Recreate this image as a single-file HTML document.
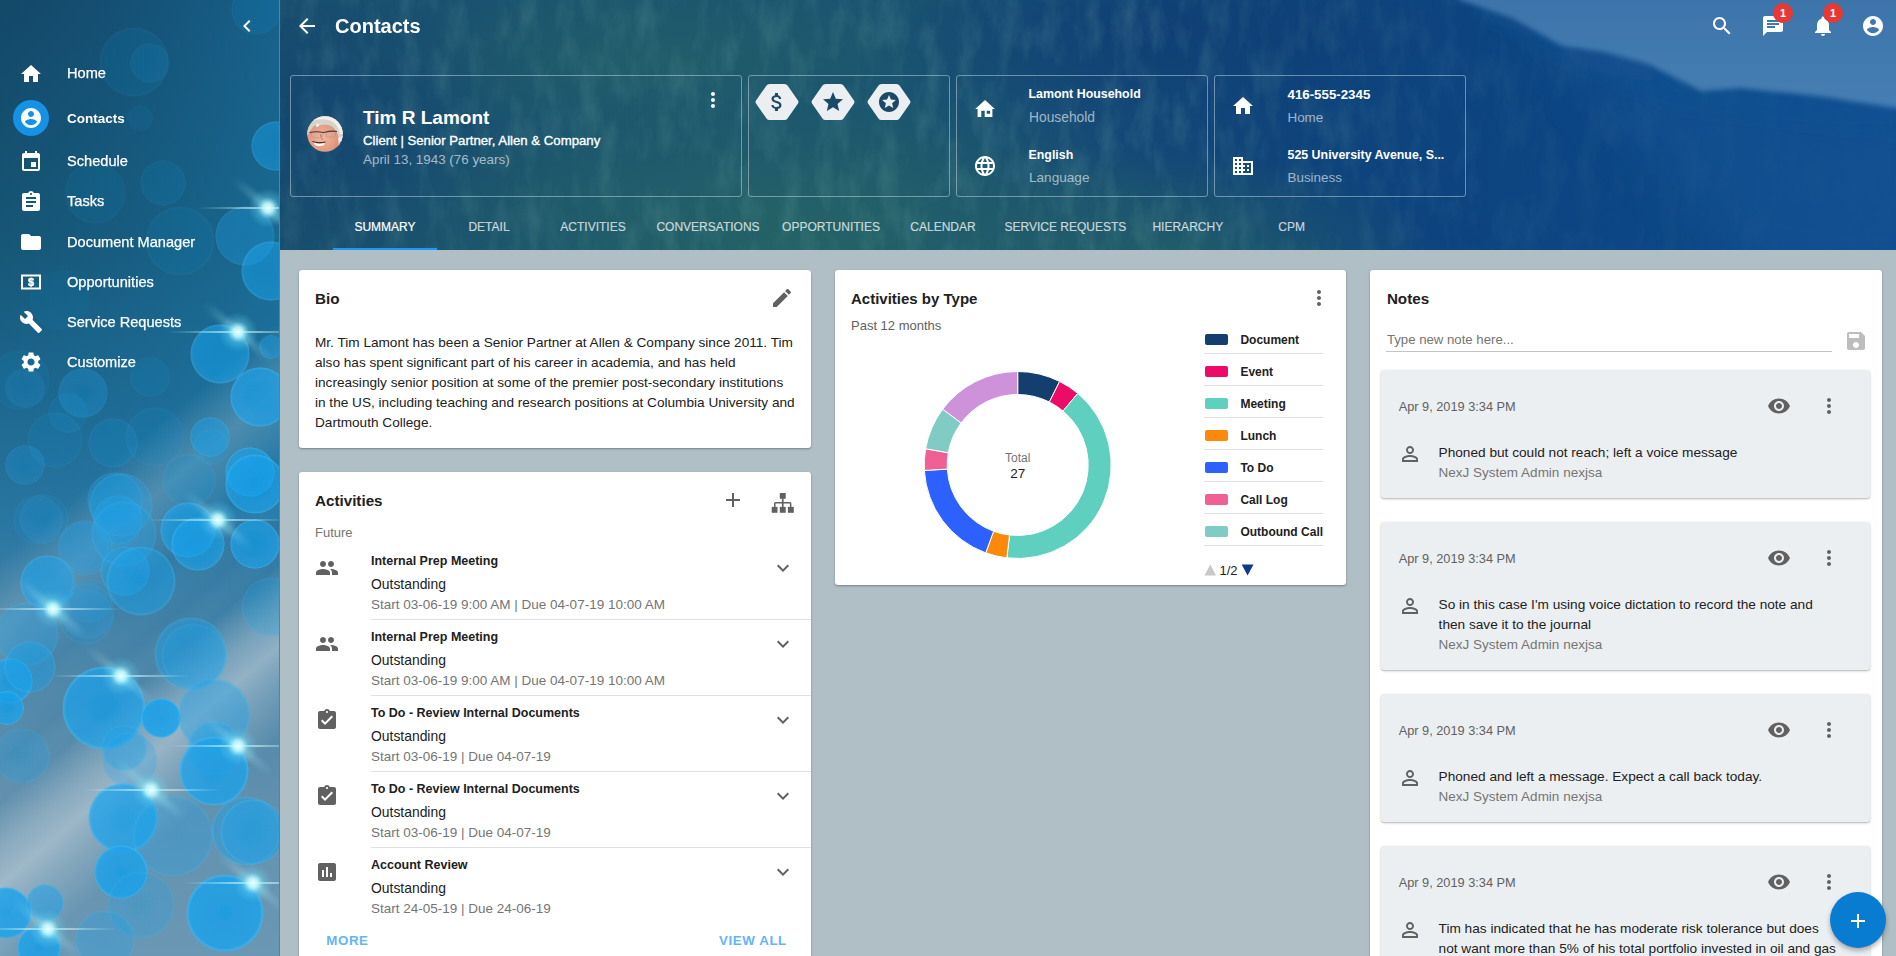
<!DOCTYPE html>
<html><head><meta charset="utf-8"><style>
*{box-sizing:border-box;margin:0;padding:0}
html,body{width:1896px;height:956px;overflow:hidden;font-family:"Liberation Sans",sans-serif;background:#b0bec5;position:relative}
.abs{position:absolute}
svg{display:block;overflow:visible}
.t{position:absolute;white-space:nowrap;line-height:1}
#side{position:absolute;left:0;top:0;width:279px;height:956px;overflow:hidden;background:#1d6d9c}
#sidebg{position:absolute;left:0;top:0;width:279px;height:956px;
 background:linear-gradient(180deg,#134a6b 0%,#175a7e 20%,#1f77a6 40%,#3a86b5 55%,#6f9fbd 70%,#8fb3c8 80%,#4d97c8 100%)}
#sideline{position:absolute;left:279px;top:0;width:1px;height:956px;background:rgba(5,50,90,0.45)}
#hdr{position:absolute;left:280px;top:0;width:1616px;height:250px;overflow:hidden}
#hdrbg{position:absolute;left:0;top:0;width:1616px;height:250px;
 background:linear-gradient(90deg,#1b5068 0%,#1d5a6a 30%,#1f5f6e 50%,#174e7e 70%,#0f4a88 85%,#1757a0 100%)}
.hcard{position:absolute;top:75px;height:122px;border:1px solid rgba(220,230,240,0.45);border-radius:3px}
.tab{width:200px;text-align:center;font-size:12px;-webkit-text-stroke:0.2px currentColor}
.badge{width:20px;height:20px;border-radius:50%;background:#e53935;color:#fff;font-size:11px;font-weight:bold;line-height:21px;text-align:center}
.avatar{width:36px;height:36px;border-radius:50%;background:radial-gradient(circle at 50% 55%,#e8c0a0 0%,#d9a888 35%,#c8c8c8 60%,#eeeeee 75%)}
.card{position:absolute;background:#fff;border-radius:3px;box-shadow:0 1px 3px rgba(0,0,0,0.2),0 1px 1px rgba(0,0,0,0.14)}
.note{position:absolute;left:1381px;width:489px;background:#eceff1;border-radius:3px;box-shadow:0 1px 3px rgba(0,0,0,0.2),0 1px 1px rgba(0,0,0,0.12)}

</style></head><body>
<div id="side">
<svg class="abs" style="left:0;top:0" width="279" height="956" viewBox="0 0 279 956"><defs><linearGradient id="sb" x1="0" y1="0" x2="0" y2="1"><stop offset="0" stop-color="#134869"/><stop offset="0.25" stop-color="#165676"/><stop offset="0.42" stop-color="#1d6890"/><stop offset="0.55" stop-color="#2a77a3"/><stop offset="0.68" stop-color="#4683a8"/><stop offset="0.85" stop-color="#6391ae"/><stop offset="1" stop-color="#6a98b4"/></linearGradient><linearGradient id="sv" gradientUnits="userSpaceOnUse" x1="0" y1="560" x2="240" y2="840"><stop offset="0" stop-color="#c8d2d8" stop-opacity="0"/><stop offset="0.14" stop-color="#b8c6ce" stop-opacity="0.3"/><stop offset="0.3" stop-color="#c8d2d8" stop-opacity="0"/><stop offset="0.42" stop-color="#3f7698" stop-opacity="0.12"/><stop offset="0.5" stop-color="#c8d2d8" stop-opacity="0"/><stop offset="0.6" stop-color="#c4d0d8" stop-opacity="0.4"/><stop offset="0.67" stop-color="#ccd6dc" stop-opacity="0.55"/><stop offset="0.74" stop-color="#c4d0d8" stop-opacity="0.35"/><stop offset="0.86" stop-color="#c8d2d8" stop-opacity="0"/><stop offset="1" stop-color="#c8d2d8" stop-opacity="0"/></linearGradient><linearGradient id="sr" x1="0" y1="0" x2="1" y2="0"><stop offset="0" stop-color="#1a6d9e" stop-opacity="0"/><stop offset="1" stop-color="#1f86bd" stop-opacity="0.4"/></linearGradient><radialGradient id="bc"><stop offset="0" stop-color="#139de8"/><stop offset="0.9" stop-color="#1ba3ec"/><stop offset="0.97" stop-color="#3ab4f0"/><stop offset="1" stop-color="#3ab4f0" stop-opacity="0"/></radialGradient><radialGradient id="fl"><stop offset="0" stop-color="#f0ffff" stop-opacity="1"/><stop offset="0.25" stop-color="#bdf8ff" stop-opacity="0.9"/><stop offset="0.55" stop-color="#70d8f0" stop-opacity="0.35"/><stop offset="1" stop-color="#60c8e8" stop-opacity="0"/></radialGradient><linearGradient id="fh" x1="0" y1="0" x2="1" y2="0"><stop offset="0" stop-color="#bff" stop-opacity="0"/><stop offset="0.5" stop-color="#eff" stop-opacity="0.9"/><stop offset="1" stop-color="#bff" stop-opacity="0"/></linearGradient><linearGradient id="fd" x1="0" y1="0" x2="1" y2="0"><stop offset="0" stop-color="#aef" stop-opacity="0"/><stop offset="0.5" stop-color="#cff" stop-opacity="0.35"/><stop offset="1" stop-color="#aef" stop-opacity="0"/></linearGradient><filter id="fbl" x="-20%" y="-50%" width="140%" height="200%"><feGaussianBlur stdDeviation="2"/></filter><filter id="sbl" x="-5%" y="-5%" width="110%" height="110%"><feGaussianBlur stdDeviation="0.7"/></filter></defs><rect width="279" height="956" fill="url(#sb)"/><rect y="0" width="279" height="520" fill="url(#sr)"/><rect y="0" width="279" height="956" fill="url(#sv)"/><g filter="url(#sbl)"><circle cx="134" cy="62" r="35" fill="url(#bc)" opacity="0.1"/><circle cx="150" cy="63" r="20" fill="url(#bc)" opacity="0.1"/><circle cx="256" cy="10" r="25" fill="url(#bc)" opacity="0.12"/><circle cx="140" cy="118" r="13" fill="url(#bc)" opacity="0.08"/><circle cx="163" cy="183" r="23" fill="url(#bc)" opacity="0.12"/><circle cx="180" cy="241" r="35" fill="url(#bc)" opacity="0.1"/><circle cx="95" cy="193" r="31" fill="url(#bc)" opacity="0.08"/><circle cx="150" cy="377" r="20" fill="url(#bc)" opacity="0.1"/><circle cx="155" cy="437" r="30" fill="url(#bc)" opacity="0.1"/><circle cx="60" cy="300" r="30" fill="url(#bc)" opacity="0.06"/><circle cx="20" cy="380" r="30" fill="url(#bc)" opacity="0.08"/><circle cx="276" cy="146" r="25" fill="url(#bc)" opacity="0.45"/><circle cx="245" cy="236" r="30" fill="url(#bc)" opacity="0.3"/><circle cx="271" cy="271" r="30" fill="url(#bc)" opacity="0.5"/><circle cx="220" cy="354" r="30" fill="url(#bc)" opacity="0.55"/><circle cx="260" cy="397" r="30" fill="url(#bc)" opacity="0.65"/><circle cx="271" cy="347" r="12" fill="url(#bc)" opacity="0.4"/><circle cx="210" cy="437" r="20" fill="url(#bc)" opacity="0.45"/><circle cx="250" cy="472" r="25" fill="url(#bc)" opacity="0.65"/><circle cx="25" cy="388" r="20" fill="url(#bc)" opacity="0.12"/><circle cx="83" cy="393" r="25" fill="url(#bc)" opacity="0.25"/><circle cx="68" cy="413" r="20" fill="url(#bc)" opacity="0.12"/><circle cx="113" cy="443" r="25" fill="url(#bc)" opacity="0.15"/><circle cx="25" cy="465" r="20" fill="url(#bc)" opacity="0.12"/><circle cx="55" cy="440" r="28" fill="url(#bc)" opacity="0.1"/><circle cx="115" cy="500" r="28" fill="url(#bc)" opacity="0.3"/><circle cx="118" cy="520" r="25" fill="url(#bc)" opacity="0.4"/><circle cx="38" cy="520" r="25" fill="url(#bc)" opacity="0.12"/><circle cx="85" cy="548" r="28" fill="url(#bc)" opacity="0.25"/><circle cx="125" cy="571" r="25" fill="url(#bc)" opacity="0.45"/><circle cx="48" cy="583" r="28" fill="url(#bc)" opacity="0.35"/><circle cx="90" cy="601" r="22" fill="url(#bc)" opacity="0.15"/><circle cx="121" cy="505" r="32" fill="url(#bc)" opacity="0.3"/><circle cx="124" cy="534" r="33" fill="url(#bc)" opacity="0.3"/><circle cx="84" cy="547" r="25" fill="url(#bc)" opacity="0.15"/><circle cx="141" cy="581" r="35" fill="url(#bc)" opacity="0.45"/><circle cx="47" cy="582" r="27" fill="url(#bc)" opacity="0.35"/><circle cx="189" cy="480" r="27" fill="url(#bc)" opacity="0.15"/><circle cx="188" cy="530" r="28" fill="url(#bc)" opacity="0.6"/><circle cx="198" cy="544" r="27" fill="url(#bc)" opacity="0.6"/><circle cx="255" cy="484" r="30" fill="url(#bc)" opacity="0.65"/><circle cx="255" cy="544" r="25" fill="url(#bc)" opacity="0.65"/><circle cx="25" cy="465" r="20" fill="url(#bc)" opacity="0.12"/><circle cx="44" cy="519" r="25" fill="url(#bc)" opacity="0.12"/><circle cx="211" cy="447" r="18" fill="url(#bc)" opacity="0.15"/><circle cx="87" cy="611" r="28" fill="url(#bc)" opacity="0.15"/><circle cx="27" cy="634" r="32" fill="url(#bc)" opacity="0.3"/><circle cx="10" cy="681" r="23" fill="url(#bc)" opacity="0.75"/><circle cx="191" cy="654" r="37" fill="url(#bc)" opacity="0.4"/><circle cx="104" cy="708" r="42" fill="url(#bc)" opacity="0.7"/><circle cx="161" cy="718" r="20" fill="url(#bc)" opacity="0.85"/><circle cx="214" cy="715" r="37" fill="url(#bc)" opacity="0.4"/><circle cx="7" cy="708" r="17" fill="url(#bc)" opacity="0.75"/><circle cx="271" cy="607" r="30" fill="url(#bc)" opacity="0.2"/><circle cx="124" cy="748" r="23" fill="url(#bc)" opacity="0.3"/><circle cx="214" cy="748" r="27" fill="url(#bc)" opacity="0.35"/><circle cx="130" cy="760" r="28" fill="url(#bc)" opacity="0.25"/><circle cx="22" cy="756" r="28" fill="url(#bc)" opacity="0.25"/><circle cx="214" cy="771" r="35" fill="url(#bc)" opacity="0.75"/><circle cx="123" cy="818" r="35" fill="url(#bc)" opacity="0.75"/><circle cx="173" cy="836" r="41" fill="url(#bc)" opacity="0.3"/><circle cx="246" cy="831" r="35" fill="url(#bc)" opacity="0.4"/><circle cx="121" cy="872" r="27" fill="url(#bc)" opacity="0.8"/><circle cx="225" cy="913" r="39" fill="url(#bc)" opacity="0.8"/><circle cx="6" cy="913" r="26" fill="url(#bc)" opacity="0.8"/><circle cx="45" cy="903" r="19" fill="url(#bc)" opacity="0.5"/><circle cx="39" cy="948" r="22" fill="url(#bc)" opacity="0.8"/><circle cx="141" cy="905" r="34" fill="url(#bc)" opacity="0.25"/><circle cx="86" cy="617" r="28" fill="url(#bc)" opacity="0.15"/><circle cx="194" cy="656" r="33" fill="url(#bc)" opacity="0.2"/><circle cx="30" cy="667" r="26" fill="url(#bc)" opacity="0.4"/><circle cx="253" cy="832" r="33" fill="url(#bc)" opacity="0.45"/><circle cx="105" cy="940" r="30" fill="url(#bc)" opacity="0.3"/></g><rect x="198" y="207.2" width="140" height="1.6" fill="url(#fh)"/><rect x="223" y="204" width="90" height="8" fill="url(#fd)" transform="rotate(40 268 208)" filter="url(#fbl)"/><circle cx="268" cy="208" r="20" fill="url(#fl)"/><rect x="168" y="331.2" width="140" height="1.6" fill="url(#fh)"/><rect x="193" y="328" width="90" height="8" fill="url(#fd)" transform="rotate(40 238 332)" filter="url(#fbl)"/><circle cx="238" cy="332" r="20" fill="url(#fl)"/><rect x="148" y="519.2" width="140" height="1.6" fill="url(#fh)"/><rect x="173" y="516" width="90" height="8" fill="url(#fd)" transform="rotate(40 218 520)" filter="url(#fbl)"/><circle cx="218" cy="520" r="20" fill="url(#fl)"/><rect x="-17" y="608.2" width="140" height="1.6" fill="url(#fh)"/><rect x="8" y="605" width="90" height="8" fill="url(#fd)" transform="rotate(40 53 609)" filter="url(#fbl)"/><circle cx="53" cy="609" r="20" fill="url(#fl)"/><rect x="51" y="675.2" width="140" height="1.6" fill="url(#fh)"/><rect x="76" y="672" width="90" height="8" fill="url(#fd)" transform="rotate(40 121 676)" filter="url(#fbl)"/><circle cx="121" cy="676" r="20" fill="url(#fl)"/><rect x="168" y="745.2" width="140" height="1.6" fill="url(#fh)"/><rect x="193" y="742" width="90" height="8" fill="url(#fd)" transform="rotate(40 238 746)" filter="url(#fbl)"/><circle cx="238" cy="746" r="20" fill="url(#fl)"/><rect x="81" y="789.2" width="140" height="1.6" fill="url(#fh)"/><rect x="106" y="786" width="90" height="8" fill="url(#fd)" transform="rotate(40 151 790)" filter="url(#fbl)"/><circle cx="151" cy="790" r="20" fill="url(#fl)"/><rect x="183" y="882.2" width="140" height="1.6" fill="url(#fh)"/><rect x="208" y="879" width="90" height="8" fill="url(#fd)" transform="rotate(40 253 883)" filter="url(#fbl)"/><circle cx="253" cy="883" r="20" fill="url(#fl)"/><rect x="-22" y="928.2" width="140" height="1.6" fill="url(#fh)"/><rect x="3" y="925" width="90" height="8" fill="url(#fd)" transform="rotate(40 48 929)" filter="url(#fbl)"/><circle cx="48" cy="929" r="20" fill="url(#fl)"/></svg>
<svg class="abs" style="left:235px;top:14px" width="24" height="24" viewBox="0 0 24 24"><path fill="#fff" d="M15.41 7.41L14 6l-6 6 6 6 1.41-1.41L10.83 12z"/></svg>
<svg class="abs" style="left:19px;top:61.5px" width="24" height="24" viewBox="0 0 24 24"><path fill="#fff" d="M10 20v-6h4v6h5v-8h3L12 3 2 12h3v8z"/></svg>
<div class="t " style="left:67px;top:66.24px;font-size:14.6px;color:#fff;font-weight:normal;-webkit-text-stroke:0.25px #fff">Home</div>
<div class="abs" style="left:13px;top:100px;width:36px;height:36px;border-radius:50%;background:#1592e6"></div>
<svg class="abs" style="left:19px;top:106px" width="24" height="24" viewBox="0 0 24 24"><path fill="#fff" d="M12 2C6.48 2 2 6.48 2 12s4.48 10 10 10 10-4.48 10-10S17.52 2 12 2zm0 3c1.66 0 3 1.34 3 3s-1.34 3-3 3-3-1.34-3-3 1.34-3 3-3zm0 14.2c-2.5 0-4.71-1.28-6-3.22.03-1.99 4-3.08 6-3.08 1.99 0 5.97 1.09 6 3.08-1.29 1.94-3.5 3.22-6 3.22z"/></svg>
<div class="t " style="left:67px;top:111.67px;font-size:13.5px;color:#fff;font-weight:bold;">Contacts</div>
<svg class="abs" style="left:19px;top:149.5px" width="24" height="24" viewBox="0 0 24 24"><path fill="#fff" d="M17 12h-5v5h5v-5zM16 1v2H8V1H6v2H5c-1.11 0-1.99.9-1.99 2L3 19c0 1.1.89 2 2 2h14c1.1 0 2-.9 2-2V5c0-1.1-.9-2-2-2h-1V1h-2zm3 18H5V8h14v11z"/></svg>
<div class="t " style="left:67px;top:154.24px;font-size:14.6px;color:#fff;font-weight:normal;-webkit-text-stroke:0.25px #fff">Schedule</div>
<svg class="abs" style="left:19px;top:189.5px" width="24" height="24" viewBox="0 0 24 24"><path fill="#fff" d="M19 3h-4.18C14.4 1.84 13.3 1 12 1c-1.3 0-2.4.84-2.82 2H5c-1.1 0-2 .9-2 2v14c0 1.1.9 2 2 2h14c1.1 0 2-.9 2-2V5c0-1.1-.9-2-2-2zm-7 0c.55 0 1 .45 1 1s-.45 1-1 1-1-.45-1-1 .45-1 1-1zm2 14H7v-2h7v2zm3-4H7v-2h10v2zm0-4H7V7h10v2z"/></svg>
<div class="t " style="left:67px;top:194.24px;font-size:14.6px;color:#fff;font-weight:normal;-webkit-text-stroke:0.25px #fff">Tasks</div>
<svg class="abs" style="left:19px;top:230px" width="24" height="24" viewBox="0 0 24 24"><path fill="#fff" d="M10 4H4c-1.1 0-1.99.9-1.99 2L2 18c0 1.1.9 2 2 2h16c1.1 0 2-.9 2-2V8c0-1.1-.9-2-2-2h-8l-2-2z"/></svg>
<div class="t " style="left:67px;top:234.74px;font-size:14.6px;color:#fff;font-weight:normal;-webkit-text-stroke:0.25px #fff">Document Manager</div>
<svg class="abs" style="left:19px;top:270px" width="24" height="24" viewBox="0 0 24 24"><rect x="3" y="5.5" width="18" height="13" fill="none" stroke="#fff" stroke-width="2"/><text x="12" y="16.2" text-anchor="middle" font-family="Liberation Sans" font-weight="bold" font-size="11" fill="#fff" stroke="#fff" stroke-width="0.4">$</text></svg>
<div class="t " style="left:67px;top:274.74px;font-size:14.6px;color:#fff;font-weight:normal;-webkit-text-stroke:0.25px #fff">Opportunities</div>
<svg class="abs" style="left:19px;top:310px" width="24" height="24" viewBox="0 0 24 24"><path fill="#fff" d="M22.7 19l-9.1-9.1c.9-2.3.4-5-1.5-6.9-2-2-5-2.4-7.4-1.3L9 6 6 9 1.6 4.7C.4 7.1.9 10.1 2.9 12.1c1.9 1.9 4.6 2.4 6.9 1.5l9.1 9.1c.4.4 1 .4 1.4 0l2.3-2.3c.5-.4.5-1.1.1-1.4z"/></svg>
<div class="t " style="left:67px;top:314.74px;font-size:14.6px;color:#fff;font-weight:normal;-webkit-text-stroke:0.25px #fff">Service Requests</div>
<svg class="abs" style="left:19px;top:350px" width="24" height="24" viewBox="0 0 24 24"><path fill="#fff" d="M19.14 12.94c.04-.3.06-.61.06-.94 0-.32-.02-.64-.07-.94l2.03-1.58c.18-.14.23-.41.12-.61l-1.92-3.32c-.12-.22-.37-.29-.59-.22l-2.39.96c-.5-.38-1.03-.7-1.62-.94l-.36-2.54c-.04-.24-.24-.41-.48-.41h-3.84c-.24 0-.43.17-.47.41l-.36 2.54c-.59.24-1.13.57-1.62.94l-2.39-.96c-.22-.08-.47 0-.59.22L2.74 8.87c-.12.21-.08.47.12.61l2.03 1.58c-.05.3-.09.63-.09.94s.02.64.07.94l-2.03 1.58c-.18.14-.23.41-.12.61l1.92 3.320c.12.22.37.29.59.22l2.39-.96c.5.38 1.03.7 1.62.94l.36 2.54c.05.24.24.41.48.41h3.84c.24 0 .44-.17.47-.41l.36-2.54c.59-.24 1.13-.56 1.62-.94l2.39.96c.22.08.47 0 .59-.22l1.92-3.32c.12-.22.07-.47-.12-.61l-2.01-1.58zM12 15.6c-1.98 0-3.6-1.62-3.6-3.6s1.62-3.6 3.6-3.6 3.6 1.62 3.6 3.6-1.62 3.6-3.6 3.6z"/></svg>
<div class="t " style="left:67px;top:354.74px;font-size:14.6px;color:#fff;font-weight:normal;-webkit-text-stroke:0.25px #fff">Customize</div>
</div>
<div id="sideline"></div>
<div id="hdr"><svg class="abs" style="left:0;top:0" width="1616" height="250" viewBox="0 0 1616 250"><defs><linearGradient id="hb" x1="0" y1="0" x2="1" y2="0"><stop offset="0" stop-color="#184d6e"/><stop offset="0.2" stop-color="#1b556f"/><stop offset="0.38" stop-color="#1a5470"/><stop offset="0.5" stop-color="#154a76"/><stop offset="0.62" stop-color="#0f437a"/><stop offset="0.8" stop-color="#0c4583"/><stop offset="1" stop-color="#0e4b8c"/></linearGradient><filter id="tex" x="0" y="0" width="100%" height="100%"><feTurbulence type="fractalNoise" baseFrequency="0.05 0.02" numOctaves="4" seed="11"/><feColorMatrix values="0 0 0 0 0.2  0 0 0 0 0.46  0 0 0 0 0.42  0 0 0 1.2 -0.5"/></filter><linearGradient id="texmask" x1="0" y1="0" x2="1" y2="0"><stop offset="0" stop-color="#fff" stop-opacity="0.3"/><stop offset="0.55" stop-color="#fff" stop-opacity="0.35"/><stop offset="0.75" stop-color="#fff" stop-opacity="0.15"/><stop offset="1" stop-color="#fff" stop-opacity="0.06"/></linearGradient><mask id="tm"><rect width="1616" height="250" fill="url(#texmask)"/></mask><radialGradient id="g1"><stop offset="0" stop-color="#2c6c60" stop-opacity="0.6"/><stop offset="1" stop-color="#2c6c60" stop-opacity="0"/></radialGradient><radialGradient id="g2"><stop offset="0" stop-color="#0e3c74" stop-opacity="0.7"/><stop offset="1" stop-color="#0e3c74" stop-opacity="0"/></radialGradient><linearGradient id="sky" x1="0" y1="0" x2="0" y2="1"><stop offset="0" stop-color="#3b73a9"/><stop offset="1" stop-color="#467fb3"/></linearGradient><linearGradient id="haze" x1="0" y1="0" x2="0" y2="1"><stop offset="0" stop-color="#2a64a0" stop-opacity="0.5"/><stop offset="1" stop-color="#0d4a8c" stop-opacity="0"/></linearGradient><linearGradient id="hz2" x1="0" y1="0" x2="1" y2="0"><stop offset="0" stop-color="#1d5a9a" stop-opacity="0"/><stop offset="1" stop-color="#1d5a9a" stop-opacity="0.5"/></linearGradient><filter id="bl" x="-10%" y="-10%" width="120%" height="120%"><feGaussianBlur stdDeviation="8"/></filter><filter id="bl2" x="-10%" y="-10%" width="120%" height="120%"><feGaussianBlur stdDeviation="2.5"/></filter></defs><rect width="1616" height="250" fill="url(#hb)"/><ellipse cx="520" cy="230" rx="420" ry="140" fill="url(#g1)"/><ellipse cx="900" cy="260" rx="260" ry="110" fill="url(#g1)"/><ellipse cx="380" cy="60" rx="260" ry="80" fill="url(#g1)" opacity="0.6"/><ellipse cx="880" cy="30" rx="300" ry="90" fill="url(#g2)"/><ellipse cx="60" cy="120" rx="160" ry="130" fill="url(#g2)" opacity="0.6"/><g mask="url(#tm)"><rect width="1616" height="250" filter="url(#tex)"/></g><filter id="bl3" x="-30%" y="-30%" width="160%" height="160%"><feGaussianBlur stdDeviation="25"/></filter><path d="M1200 -30 L1660 -30 L1660 280 L1480 280 Z" fill="#1b5ba0" opacity="0.3" filter="url(#bl3)"/><path d="M1170 -20 L1180 0 L1232 18 L1282 46 L1324 52 L1368 64 L1421 91 L1460 88 L1538 96 L1616 108 L1640 112 L1640 150 L1500 125 L1400 110 L1300 65 L1230 28 L1150 -20 Z" fill="url(#haze)" filter="url(#bl)"/><path d="M1170 -20 L1180 0 L1232 18 L1282 46 L1324 52 L1368 64 L1421 91 L1460 88 L1538 96 L1616 108 L1640 112 L1640 -20 Z" fill="url(#sky)" filter="url(#bl2)"/></svg>
</div>
<svg class="abs" style="left:295px;top:14px" width="24" height="24" viewBox="0 0 24 24"><path fill="#fff" d="M20 11H7.83l5.59-5.59L12 4l-8 8 8 8 1.41-1.41L7.83 13H20v-2z"/></svg>
<div class="t " style="left:335px;top:16.07px;font-size:20px;color:#fff;font-weight:bold;">Contacts</div>
<svg class="abs" style="left:1710px;top:14px" width="24" height="24" viewBox="0 0 24 24"><path fill="#fff" d="M15.5 14h-.79l-.28-.27C15.41 12.59 16 11.11 16 9.5 16 5.91 13.09 3 9.5 3S3 5.910 3 9.5 5.91 16 9.5 16c1.61 0 3.09-.59 4.23-1.57l.27.28v.79l5 4.99L20.49 19l-4.99-5zm-6 0C7.01 14 5 11.99 5 9.5S7.01 5 9.5 5 14 7.01 14 9.5 11.99 14 9.5 14z"/></svg>
<svg class="abs" style="left:1761px;top:14px" width="24" height="24" viewBox="0 0 24 24"><path fill="#fff" d="M20 2H4c-1.1 0-1.99.9-1.99 2L2 22l4-4h14c1.1 0 2-.9 2-2V4c0-1.1-.9-2-2-2zM6 9h12v2H6V9zm8 5H6v-2h8v2zm4-6H6V6h12v2z"/></svg>
<svg class="abs" style="left:1811px;top:14px" width="24" height="24" viewBox="0 0 24 24"><path fill="#fff" d="M12 22c1.1 0 2-.9 2-2h-4c0 1.1.89 2 2 2zm6-6v-5c0-3.07-1.64-5.64-4.5-6.32V4c0-.83-.67-1.5-1.5-1.5s-1.5.67-1.5 1.5v.68C7.630 5.36 6 7.92 6 11v5l-2 2v1h16v-1l-2-2z"/></svg>
<svg class="abs" style="left:1861px;top:14px" width="24" height="24" viewBox="0 0 24 24"><path fill="#fff" d="M12 2C6.48 2 2 6.48 2 12s4.48 10 10 10 10-4.48 10-10S17.52 2 12 2zm0 3c1.66 0 3 1.34 3 3s-1.34 3-3 3-3-1.34-3-3 1.34-3 3-3zm0 14.2c-2.5 0-4.71-1.28-6-3.22.03-1.99 4-3.08 6-3.08 1.99 0 5.97 1.09 6 3.08-1.29 1.94-3.5 3.22-6 3.22z"/></svg>
<div class="abs badge" style="left:1773px;top:3px">1</div>
<div class="abs badge" style="left:1823px;top:3px">1</div>
<div class="hcard" style="left:290px;width:452px"></div>
<div class="hcard" style="left:748px;width:202px"></div>
<div class="hcard" style="left:956px;width:252px"></div>
<div class="hcard" style="left:1214px;width:252px"></div>
<svg class="abs" style="left:307px;top:116px" width="36" height="36" viewBox="0 0 36 36"><defs><clipPath id="avc"><circle cx="18" cy="18" r="17.8"/></clipPath><radialGradient id="skin" cx="0.42" cy="0.6" r="0.6"><stop offset="0" stop-color="#eeb8a0"/><stop offset="0.6" stop-color="#e49c84"/><stop offset="1" stop-color="#cf866e"/></radialGradient></defs><g clip-path="url(#avc)"><rect width="36" height="36" fill="url(#skin)"/><path d="M0 0 H36 V36 H34 C33 30 32 24 31 19 C29 14 26 10 21 9 C16 8 12 10 9 9 C6 10 4 13 2 17 L0 20 Z" fill="#d8d2cc"/><path d="M6 5 C11 3 20 2 26 6 C30 9 32 13 33 18 L36 18 V0 H0 V10 C2 8 4 6 6 5Z" fill="#f2eeea"/><path d="M9 9 C11 7 13 7 12 10 C10 11 9 12 9 9Z" fill="#f4f0ec"/><path d="M31 22 C32 27 32 31 30 35 L36 35 V20Z" fill="#f0eeec"/><path d="M33 26 L35.5 25 L35 33 L31.5 34Z" fill="#2a2020"/><path d="M2.5 16.5 C7 15.5 12 15.5 16.5 16.5 C21 15.5 26 14.5 30 15.5" stroke="#4a3a34" stroke-width="1.1" fill="none"/><path d="M4 17 L5 21 C8 22 12 22 15 21 L16 17" stroke="#b89080" stroke-width="0.6" fill="none"/><path d="M19 17 L19.5 20.5 C22 21.5 26 21 28 20 L29 16" stroke="#b89080" stroke-width="0.6" fill="none"/><path d="M6.5 26 C10 28.5 15 28.5 18 26.5 L17 29 C14 30.5 10 30.5 7.5 28.5Z" fill="#fffaf4"/><path d="M5.5 25.5 C10 27 14 27 18.5 26" stroke="#3a2020" stroke-width="1" fill="none"/><path d="M13.5 18 C14 21 14.5 23 16 24" stroke="#c07a66" stroke-width="1" fill="none"/></g></svg>
<div class="t " style="left:363px;top:107.92px;font-size:19px;color:#fff;font-weight:bold;">Tim R Lamont</div>
<div class="t " style="left:363px;top:133.63px;font-size:13.2px;color:#fff;font-weight:normal;-webkit-text-stroke:0.35px #fff">Client | Senior Partner, Allen &amp; Company</div>
<div class="t " style="left:363px;top:153.16px;font-size:13.4px;color:rgba(255,255,255,0.62);font-weight:normal;">April 13, 1943 (76 years)</div>
<svg class="abs" style="left:701px;top:88px" width="24" height="24" viewBox="0 0 24 24"><path fill="#fff" d="M12 8c1.1 0 2-.9 2-2s-.9-2-2-2-2 .9-2 2 .9 2 2 2zm0 2c-1.1 0-2 .9-2 2s.9 2 2 2 2-.9 2-2-.9-2-2-2zm0 6c-1.1 0-2 .9-2 2s.9 2 2 2 2-.9 2-2-.9-2-2-2z"/></svg>
<svg class="abs" style="left:755px;top:84px" width="44" height="36" viewBox="0 0 44 36"><path fill="#eceff1" d="M11.5 1.5 Q12.5 0 14.5 0 H29.5 Q31.5 0 32.5 1.5 L43 16.5 Q44 18 43 19.5 L32.5 34.5 Q31.5 36 29.5 36 H14.5 Q12.5 36 11.5 34.5 L1 19.5 Q0 18 1 16.5 Z"/></svg>
<svg class="abs" style="left:765px;top:90px" width="24" height="24" viewBox="0 0 24 24"><path fill="#1b4a68" d="M11.8 10.9c-2.27-.59-3-1.2-3-2.15 0-1.09 1.01-1.85 2.7-1.85 1.78 0 2.44.85 2.5 2.1h2.21c-.07-1.72-1.12-3.3-3.21-3.81V3h-3v2.16c-1.94.42-3.5 1.68-3.5 3.61 0 2.31 1.91 3.46 4.7 4.13 2.5.6 3 1.48 3 2.41 0 .69-.49 1.79-2.7 1.79-2.06 0-2.87-.92-2.98-2.1h-2.2c.12 2.19 1.76 3.42 3.7 3.83V21h3v-2.15c1.95-.37 3.5-1.5 3.5-3.55 0-2.84-2.43-3.81-4.7-4.4z"/></svg>
<svg class="abs" style="left:811px;top:84px" width="44" height="36" viewBox="0 0 44 36"><path fill="#eceff1" d="M11.5 1.5 Q12.5 0 14.5 0 H29.5 Q31.5 0 32.5 1.5 L43 16.5 Q44 18 43 19.5 L32.5 34.5 Q31.5 36 29.5 36 H14.5 Q12.5 36 11.5 34.5 L1 19.5 Q0 18 1 16.5 Z"/></svg>
<svg class="abs" style="left:821px;top:90px" width="24" height="24" viewBox="0 0 24 24"><path fill="#1b4a68" d="M12 17.27L18.18 21l-1.64-7.03L22 9.24l-7.19-.61L12 2 9.19 8.63 2 9.24l5.46 4.73L5.82 21z"/></svg>
<svg class="abs" style="left:867px;top:84px" width="44" height="36" viewBox="0 0 44 36"><path fill="#eceff1" d="M11.5 1.5 Q12.5 0 14.5 0 H29.5 Q31.5 0 32.5 1.5 L43 16.5 Q44 18 43 19.5 L32.5 34.5 Q31.5 36 29.5 36 H14.5 Q12.5 36 11.5 34.5 L1 19.5 Q0 18 1 16.5 Z"/></svg>
<svg class="abs" style="left:877px;top:90px" width="24" height="24" viewBox="0 0 24 24"><path fill="#1b4a68" d="M11.99 2C6.47 2 2 6.48 2 12s4.47 10 9.99 10C17.52 22 22 17.52 22 12S17.52 2 11.99 2zm4.24 16L12 15.45 7.77 18l1.12-4.81-3.73-3.23 4.92-.42L12 5l1.92 4.53 4.92.42-3.73 3.23L16.23 18z"/></svg>
<svg class="abs" style="left:973px;top:97px" width="24" height="24" viewBox="0 0 24 24"><path fill="#fff" fill-rule="evenodd" d="M12 3 L2.2 12 H4.6 V20 H19.4 V12 H21.9 Z M8.3 13.8 H11.7 V20 H8.3 Z M13.7 13.8 H17.1 V16.8 H13.7 Z"/></svg>
<svg class="abs" style="left:973px;top:154px" width="24" height="24" viewBox="0 0 24 24"><path fill="#fff" d="M11.99 2C6.47 2 2 6.48 2 12s4.47 10 9.99 10C17.52 22 22 17.52 22 12S17.52 2 11.99 2zm6.93 6h-2.95c-.32-1.25-.78-2.45-1.38-3.56 1.84.63 3.37 1.91 4.33 3.56zM12 4.04c.83 1.2 1.48 2.53 1.91 3.96h-3.82c.43-1.43 1.08-2.76 1.91-3.96zM4.26 14C4.1 13.36 4 12.69 4 12s.1-1.36.26-2h3.38c-.08.66-.14 1.32-.14 2 0 .68.06 1.34.14 2H4.26zm.82 2h2.95c.32 1.25.78 2.45 1.38 3.56-1.84-.63-3.37-1.9-4.33-3.56zm2.95-8H5.08c.96-1.66 2.49-2.93 4.33-3.56C8.81 5.55 8.35 6.75 8.03 8zM12 19.96c-.83-1.2-1.48-2.53-1.91-3.96h3.82c-.43 1.43-1.08 2.76-1.910 3.96zM14.34 14H9.66c-.09-.66-.16-1.32-.16-2 0-.68.07-1.35.16-2h4.68c.09.65.16 1.32.16 2 0 .68-.07 1.34-.16 2zm.25 5.56c.6-1.11 1.06-2.31 1.38-3.56h2.95c-.96 1.65-2.49 2.93-4.33 3.56zM16.36 14c.08-.66.14-1.32.14-2 0-.68-.06-1.34-.14-2h3.38c.16.64.26 1.31.26 2s-.1 1.36-.26 2h-3.38z"/></svg>
<div class="t " style="left:1028.5px;top:88.30px;font-size:12.4px;color:#fff;font-weight:bold;">Lamont Household</div>
<div class="t " style="left:1029px;top:111.12px;font-size:13.8px;color:rgba(255,255,255,0.6);font-weight:normal;">Household</div>
<div class="t " style="left:1028.5px;top:148.50px;font-size:12.4px;color:#fff;font-weight:bold;">English</div>
<div class="t " style="left:1029px;top:171.29px;font-size:13.6px;color:rgba(255,255,255,0.6);font-weight:normal;">Language</div>
<svg class="abs" style="left:1231px;top:94px" width="24" height="24" viewBox="0 0 24 24"><path fill="#fff" d="M10 20v-6h4v6h5v-8h3L12 3 2 12h3v8z"/></svg>
<svg class="abs" style="left:1231px;top:154px" width="24" height="24" viewBox="0 0 24 24"><path fill="#fff" d="M12 7V3H2v18h20V7H12zM6 19H4v-2h2v2zm0-4H4v-2h2v2zm0-4H4V9h2v2zm0-4H4V5h2v2zm4 12H8v-2h2v2zm0-4H8v-2h2v2zm0-4H8V9h2v2zm0-4H8V5h2v2zm10 12h-8v-2h2v-2h-2v-2h2v-2h-2V9h8v10zm-2-8h-2v2h2v-2zm0 4h-2v2h2v-2z"/></svg>
<div class="t " style="left:1287.5px;top:87.74px;font-size:13.3px;color:#fff;font-weight:bold;">416-555-2345</div>
<div class="t " style="left:1287.5px;top:111.46px;font-size:13.4px;color:rgba(255,255,255,0.6);font-weight:normal;">Home</div>
<div class="t " style="left:1287.5px;top:148.70px;font-size:12.4px;color:#fff;font-weight:bold;">525 University Avenue, S...</div>
<div class="t " style="left:1287.5px;top:171.46px;font-size:13.4px;color:rgba(255,255,255,0.6);font-weight:normal;">Business</div>
<div class="t tab" style="left:285px;top:221.04199999999997px;color:#fff">SUMMARY</div>
<div class="t tab" style="left:389px;top:221.04199999999997px;color:rgba(255,255,255,0.72)">DETAIL</div>
<div class="t tab" style="left:493px;top:221.04199999999997px;color:rgba(255,255,255,0.72)">ACTIVITIES</div>
<div class="t tab" style="left:608px;top:221.04199999999997px;color:rgba(255,255,255,0.72)">CONVERSATIONS</div>
<div class="t tab" style="left:731px;top:221.04199999999997px;color:rgba(255,255,255,0.72)">OPPORTUNITIES</div>
<div class="t tab" style="left:843px;top:221.04199999999997px;color:rgba(255,255,255,0.72)">CALENDAR</div>
<div class="t tab" style="left:965.4000000000001px;top:221.04199999999997px;color:rgba(255,255,255,0.72)">SERVICE REQUESTS</div>
<div class="t tab" style="left:1087.8px;top:221.04199999999997px;color:rgba(255,255,255,0.72)">HIERARCHY</div>
<div class="t tab" style="left:1191.7px;top:221.04199999999997px;color:rgba(255,255,255,0.72)">CPM</div>
<div class="abs" style="left:333px;top:248px;width:104px;height:2px;background:#2196f3"></div>
<div class="card" style="left:299px;top:270px;width:512px;height:178px"></div>
<div class="t " style="left:315px;top:291.13px;font-size:15.2px;color:#212121;font-weight:bold;">Bio</div>
<svg class="abs" style="left:770px;top:286px" width="24" height="24" viewBox="0 0 24 24"><path fill="#616161" d="M3 17.25V21h3.75L17.81 9.94l-3.75-3.75L3 17.25zM20.71 7.04c.39-.39.39-1.02 0-1.41l-2.34-2.34c-.39-.39-1.02-.39-1.41 0l-1.83 1.83 3.75 3.75 1.83-1.83z"/></svg>
<div class="t " style="left:315px;top:335.97px;font-size:13.62px;color:#212121;font-weight:normal;">Mr. Tim Lamont has been a Senior Partner at Allen &amp; Company since 2011. Tim</div>
<div class="t " style="left:315px;top:355.97px;font-size:13.62px;color:#212121;font-weight:normal;">also has spent significant part of his career in academia, and has held</div>
<div class="t " style="left:315px;top:375.97px;font-size:13.62px;color:#212121;font-weight:normal;">increasingly senior position at some of the premier post-secondary institutions</div>
<div class="t " style="left:315px;top:395.97px;font-size:13.62px;color:#212121;font-weight:normal;">in the US, including teaching and research positions at Columbia University and</div>
<div class="t " style="left:315px;top:415.97px;font-size:13.62px;color:#212121;font-weight:normal;">Dartmouth College.</div>
<div class="card" style="left:299px;top:472px;width:512px;height:500px"></div>
<div class="t " style="left:315px;top:493.13px;font-size:15.2px;color:#212121;font-weight:bold;">Activities</div>
<svg class="abs" style="left:720.7px;top:488px" width="24" height="24" viewBox="0 0 24 24"><path fill="#616161" d="M19 13h-6v6h-2v-6H5v-2h6V5h2v6h6v2z"/></svg>
<svg class="abs" style="left:771px;top:493px" width="23" height="20" viewBox="0 0 23 20"><g fill="#616161"><rect x="8.8" y="0" width="5.9" height="5.8"/><rect x="10.9" y="5.5" width="1.7" height="4"/><path d="M3 11 V10.5 Q3 9 4.5 9 H18.9 Q20.4 9 20.4 10.5 V14 H18.9 V10.5 H12.6 V14 H10.9 V10.5 H4.5 V14 H3Z"/><rect x="0.7" y="13.9" width="5.8" height="5.9"/><rect x="8.8" y="13.9" width="5.9" height="5.9"/><rect x="16.9" y="13.9" width="5.9" height="5.9"/></g></svg>
<div class="t " style="left:315px;top:526.20px;font-size:13px;color:#757575;font-weight:normal;">Future</div>
<svg class="abs" style="left:315px;top:556.0px" width="24" height="24" viewBox="0 0 24 24"><path fill="#616161" d="M16 11c1.66 0 2.99-1.34 2.99-3S17.66 5 16 5c-1.66 0-3 1.34-3 3s1.34 3 3 3zm-8 0c1.66 0 2.99-1.34 2.99-3S9.66 5 8 5C6.34 5 5 6.34 5 8s1.34 3 3 3zm0 2c-2.33 0-7 1.17-7 3.5V19h14v-2.5c0-2.33-4.67-3.5-7-3.5zm8 0c-.29 0-.62.02-.97.05 1.16.84 1.97 1.97 1.97 3.45V19h6v-2.5c0-2.33-4.67-3.5-7-3.5z"/></svg>
<svg class="abs" style="left:770.6px;top:556.2px" width="24" height="24" viewBox="0 0 24 24"><path fill="#616161" d="M16.59 8.59L12 13.17 7.41 8.59 6 10l6 6 6-6z"/></svg>
<div class="t " style="left:371px;top:555.12px;font-size:12.5px;color:#212121;font-weight:bold;">Internal Prep Meeting</div>
<div class="t " style="left:371px;top:577.73px;font-size:13.9px;color:#212121;font-weight:normal;">Outstanding</div>
<div class="t " style="left:371px;top:598.27px;font-size:13.5px;color:#757575;font-weight:normal;">Start 03-06-19 9:00 AM | Due 04-07-19 10:00 AM</div>
<div class="abs" style="left:371px;top:619.2px;width:440px;height:1px;background:#e0e0e0"></div>
<svg class="abs" style="left:315px;top:632.0px" width="24" height="24" viewBox="0 0 24 24"><path fill="#616161" d="M16 11c1.66 0 2.99-1.34 2.99-3S17.66 5 16 5c-1.66 0-3 1.34-3 3s1.34 3 3 3zm-8 0c1.66 0 2.99-1.34 2.99-3S9.66 5 8 5C6.34 5 5 6.34 5 8s1.34 3 3 3zm0 2c-2.33 0-7 1.17-7 3.5V19h14v-2.5c0-2.33-4.67-3.5-7-3.5zm8 0c-.29 0-.62.02-.97.05 1.16.84 1.97 1.97 1.97 3.45V19h6v-2.5c0-2.33-4.67-3.5-7-3.5z"/></svg>
<svg class="abs" style="left:770.6px;top:632.2px" width="24" height="24" viewBox="0 0 24 24"><path fill="#616161" d="M16.59 8.59L12 13.17 7.41 8.59 6 10l6 6 6-6z"/></svg>
<div class="t " style="left:371px;top:631.12px;font-size:12.5px;color:#212121;font-weight:bold;">Internal Prep Meeting</div>
<div class="t " style="left:371px;top:653.73px;font-size:13.9px;color:#212121;font-weight:normal;">Outstanding</div>
<div class="t " style="left:371px;top:674.27px;font-size:13.5px;color:#757575;font-weight:normal;">Start 03-06-19 9:00 AM | Due 04-07-19 10:00 AM</div>
<div class="abs" style="left:371px;top:695.2px;width:440px;height:1px;background:#e0e0e0"></div>
<svg class="abs" style="left:315px;top:708.2px" width="24" height="24" viewBox="0 0 24 24"><path fill="#616161" d="M19 3h-4.18C14.4 1.84 13.3 1 12 1c-1.3 0-2.4.84-2.82 2H5c-1.1 0-2 .9-2 2v14c0 1.1.9 2 2 2h14c1.1 0 2-.9 2-2V5c0-1.1-.9-2-2-2zm-7 0c.55 0 1 .45 1 1s-.45 1-1 1-1-.45-1-1 .45-1 1-1zm-2 14l-4-4 1.41-1.41L10 14.17l6.59-6.59L18 9l-8 8z"/></svg>
<svg class="abs" style="left:770.6px;top:708.2px" width="24" height="24" viewBox="0 0 24 24"><path fill="#616161" d="M16.59 8.59L12 13.17 7.41 8.59 6 10l6 6 6-6z"/></svg>
<div class="t " style="left:371px;top:707.12px;font-size:12.5px;color:#212121;font-weight:bold;">To Do - Review Internal Documents</div>
<div class="t " style="left:371px;top:729.73px;font-size:13.9px;color:#212121;font-weight:normal;">Outstanding</div>
<div class="t " style="left:371px;top:750.27px;font-size:13.5px;color:#757575;font-weight:normal;">Start 03-06-19 | Due 04-07-19</div>
<div class="abs" style="left:371px;top:771.2px;width:440px;height:1px;background:#e0e0e0"></div>
<svg class="abs" style="left:315px;top:784.2px" width="24" height="24" viewBox="0 0 24 24"><path fill="#616161" d="M19 3h-4.18C14.4 1.84 13.3 1 12 1c-1.3 0-2.4.84-2.82 2H5c-1.1 0-2 .9-2 2v14c0 1.1.9 2 2 2h14c1.1 0 2-.9 2-2V5c0-1.1-.9-2-2-2zm-7 0c.55 0 1 .45 1 1s-.45 1-1 1-1-.45-1-1 .45-1 1-1zm-2 14l-4-4 1.41-1.41L10 14.17l6.59-6.59L18 9l-8 8z"/></svg>
<svg class="abs" style="left:770.6px;top:784.2px" width="24" height="24" viewBox="0 0 24 24"><path fill="#616161" d="M16.59 8.59L12 13.17 7.41 8.59 6 10l6 6 6-6z"/></svg>
<div class="t " style="left:371px;top:783.12px;font-size:12.5px;color:#212121;font-weight:bold;">To Do - Review Internal Documents</div>
<div class="t " style="left:371px;top:805.73px;font-size:13.9px;color:#212121;font-weight:normal;">Outstanding</div>
<div class="t " style="left:371px;top:826.27px;font-size:13.5px;color:#757575;font-weight:normal;">Start 03-06-19 | Due 04-07-19</div>
<div class="abs" style="left:371px;top:847.2px;width:440px;height:1px;background:#e0e0e0"></div>
<svg class="abs" style="left:315px;top:860.2px" width="24" height="24" viewBox="0 0 24 24"><path fill="#616161" d="M19 3H5c-1.1 0-2 .9-2 2v14c0 1.1.9 2 2 2h14c1.1 0 2-.9 2-2V5c0-1.1-.9-2-2-2zM9 17H7v-7h2v7zm4 0h-2V7h2v10zm4 0h-2v-4h2v4z"/></svg>
<svg class="abs" style="left:770.6px;top:860.2px" width="24" height="24" viewBox="0 0 24 24"><path fill="#616161" d="M16.59 8.59L12 13.17 7.41 8.59 6 10l6 6 6-6z"/></svg>
<div class="t " style="left:371px;top:859.12px;font-size:12.5px;color:#212121;font-weight:bold;">Account Review</div>
<div class="t " style="left:371px;top:881.73px;font-size:13.9px;color:#212121;font-weight:normal;">Outstanding</div>
<div class="t " style="left:371px;top:902.27px;font-size:13.5px;color:#757575;font-weight:normal;">Start 24-05-19 | Due 24-06-19</div>
<div class="t " style="left:326.3px;top:933.94px;font-size:13.3px;color:#64b5f6;font-weight:bold;letter-spacing:0.6px">MORE</div>
<div class="t " style="left:719px;top:933.94px;font-size:13.3px;color:#64b5f6;font-weight:bold;letter-spacing:0.6px">VIEW ALL</div>
<div class="card" style="left:835px;top:270px;width:511px;height:315px"></div>
<div class="t " style="left:851px;top:290.70px;font-size:15px;color:#212121;font-weight:bold;">Activities by Type</div>
<svg class="abs" style="left:1307px;top:286px" width="24" height="24" viewBox="0 0 24 24"><path fill="#616161" d="M12 8c1.1 0 2-.9 2-2s-.9-2-2-2-2 .9-2 2 .9 2 2 2zm0 2c-1.1 0-2 .9-2 2s.9 2 2 2 2-.9 2-2-.9-2-2-2zm0 6c-1.1 0-2 .9-2 2s.9 2 2 2 2-.9 2-2-.9-2-2-2z"/></svg>
<div class="t " style="left:851px;top:319.40px;font-size:13px;color:#616161;font-weight:normal;">Past 12 months</div>
<svg class="abs" style="left:835px;top:270px" width="511" height="315"><path fill="#133e6e" stroke="#fff" stroke-width="1" d="M182.70 101.50 A93.5 93.5 0 0 1 224.66 111.45 L214.34 132.00 A70.5 70.5 0 0 0 182.70 124.50 Z"/><path fill="#ec0c68" stroke="#fff" stroke-width="1" d="M224.66 111.45 A93.5 93.5 0 0 1 242.80 123.37 L228.02 140.99 A70.5 70.5 0 0 0 214.34 132.00 Z"/><path fill="#5fcfbf" stroke="#fff" stroke-width="1" d="M242.80 123.37 A93.5 93.5 0 0 1 171.85 287.87 L174.52 265.02 A70.5 70.5 0 0 0 228.02 140.99 Z"/><path fill="#fb8a0c" stroke="#fff" stroke-width="1" d="M171.85 287.87 A93.5 93.5 0 0 1 150.72 282.86 L158.59 261.25 A70.5 70.5 0 0 0 174.52 265.02 Z"/><path fill="#2c60ff" stroke="#fff" stroke-width="1" d="M150.72 282.86 A93.5 93.5 0 0 1 89.36 200.44 L112.32 199.10 A70.5 70.5 0 0 0 158.59 261.25 Z"/><path fill="#ef6194" stroke="#fff" stroke-width="1" d="M89.36 200.44 A93.5 93.5 0 0 1 90.62 178.76 L113.27 182.76 A70.5 70.5 0 0 0 112.32 199.10 Z"/><path fill="#80cbc4" stroke="#fff" stroke-width="1" d="M90.62 178.76 A93.5 93.5 0 0 1 107.70 139.17 L126.15 152.90 A70.5 70.5 0 0 0 113.27 182.76 Z"/><path fill="#cd92d9" stroke="#fff" stroke-width="1" d="M107.70 139.17 A93.5 93.5 0 0 1 182.70 101.50 L182.70 124.50 A70.5 70.5 0 0 0 126.15 152.90 Z"/></svg>
<div class="t" style="left:977.7px;top:451.8px;width:80px;text-align:center;font-size:12px;color:#757575">Total</div>
<div class="t" style="left:977.7px;top:467.4px;width:80px;text-align:center;font-size:13.5px;color:#212121">27</div>
<div class="abs" style="left:1205px;top:333.7px;width:23px;height:11px;border-radius:2px;background:#133e6e"></div>
<div class="t " style="left:1240.4px;top:333.84px;font-size:12px;color:#212121;font-weight:bold;">Document</div>
<div class="abs" style="left:1204px;top:353px;width:119px;height:1px;background:#e0e0e0"></div>
<div class="abs" style="left:1205px;top:365.7px;width:23px;height:11px;border-radius:2px;background:#ec0c68"></div>
<div class="t " style="left:1240.4px;top:365.84px;font-size:12px;color:#212121;font-weight:bold;">Event</div>
<div class="abs" style="left:1204px;top:385px;width:119px;height:1px;background:#e0e0e0"></div>
<div class="abs" style="left:1205px;top:397.7px;width:23px;height:11px;border-radius:2px;background:#5fcfbf"></div>
<div class="t " style="left:1240.4px;top:397.84px;font-size:12px;color:#212121;font-weight:bold;">Meeting</div>
<div class="abs" style="left:1204px;top:417px;width:119px;height:1px;background:#e0e0e0"></div>
<div class="abs" style="left:1205px;top:429.7px;width:23px;height:11px;border-radius:2px;background:#fb8a0c"></div>
<div class="t " style="left:1240.4px;top:429.84px;font-size:12px;color:#212121;font-weight:bold;">Lunch</div>
<div class="abs" style="left:1204px;top:449px;width:119px;height:1px;background:#e0e0e0"></div>
<div class="abs" style="left:1205px;top:461.7px;width:23px;height:11px;border-radius:2px;background:#2c60ff"></div>
<div class="t " style="left:1240.4px;top:461.84px;font-size:12px;color:#212121;font-weight:bold;">To Do</div>
<div class="abs" style="left:1204px;top:481px;width:119px;height:1px;background:#e0e0e0"></div>
<div class="abs" style="left:1205px;top:493.7px;width:23px;height:11px;border-radius:2px;background:#ef6194"></div>
<div class="t " style="left:1240.4px;top:493.84px;font-size:12px;color:#212121;font-weight:bold;">Call Log</div>
<div class="abs" style="left:1204px;top:513px;width:119px;height:1px;background:#e0e0e0"></div>
<div class="abs" style="left:1205px;top:525.7px;width:23px;height:11px;border-radius:2px;background:#80cbc4"></div>
<div class="t " style="left:1240.4px;top:525.84px;font-size:12px;color:#212121;font-weight:bold;">Outbound Call</div>
<div class="abs" style="left:1204px;top:545px;width:119px;height:1px;background:#e0e0e0"></div>
<svg class="abs" style="left:1204px;top:564px" width="50" height="12" viewBox="0 0 50 12"><path fill="#c8c8c8" d="M0.5 11.5 L6.3 0.5 L12 11.5Z"/><path fill="#0d3a8c" d="M37.7 0.5 H49.5 L43.6 11.5Z"/></svg>
<div class="t " style="left:1219.5px;top:563.50px;font-size:13px;color:#212121;font-weight:normal;">1/2</div>
<div class="card" style="left:1370px;top:270px;width:512px;height:700px"></div>
<div class="t " style="left:1386.9px;top:291.03px;font-size:15.2px;color:#212121;font-weight:bold;">Notes</div>
<div class="t " style="left:1386.9px;top:332.53px;font-size:13.2px;color:#757575;font-weight:normal;">Type new note here...</div>
<div class="abs" style="left:1386px;top:351px;width:446px;height:1px;background:#c4c4c4"></div>
<svg class="abs" style="left:1844px;top:329px" width="24" height="24" viewBox="0 0 24 24"><path fill="#bdbdbd" d="M17 3H5c-1.11 0-2 .9-2 2v14c0 1.1.89 2 2 2h14c1.1 0 2-.9 2-2V7l-4-4zm-5 16c-1.66 0-3-1.34-3-3s1.34-3 3-3 3 1.34 3 3-1.34 3-3 3zm3-10H5V5h10v4z"/></svg>
<div class="note" style="top:370px;height:128px"></div>
<div class="t " style="left:1398.7px;top:401.01px;font-size:12.75px;color:#616161;font-weight:normal;">Apr 9, 2019 3:34 PM</div>
<svg class="abs" style="left:1767px;top:394px" width="24" height="24" viewBox="0 0 24 24"><path fill="#616161" d="M12 4.5C7 4.5 2.73 7.61 1 12c1.73 4.39 6 7.5 11 7.5s9.27-3.11 11-7.5c-1.73-4.39-6-7.5-11-7.5zM12 17c-2.76 0-5-2.24-5-5s2.24-5 5-5 5 2.24 5 5-2.24 5-5 5zm0-8c-1.66 0-3 1.34-3 3s1.34 3 3 3 3-1.34 3-3-1.34-3-3-3z"/></svg>
<svg class="abs" style="left:1817px;top:394px" width="24" height="24" viewBox="0 0 24 24"><path fill="#616161" d="M12 8c1.1 0 2-.9 2-2s-.9-2-2-2-2 .9-2 2 .9 2 2 2zm0 2c-1.1 0-2 .9-2 2s.9 2 2 2 2-.9 2-2-.9-2-2-2zm0 6c-1.1 0-2 .9-2 2s.9 2 2 2 2-.9 2-2-.9-2-2-2z"/></svg>
<svg class="abs" style="left:1398px;top:442px" width="24" height="24" viewBox="0 0 24 24"><path fill="#616161" d="M12 5.9c1.16 0 2.1.94 2.1 2.1s-.94 2.1-2.1 2.1S9.9 9.16 9.9 8s.94-2.1 2.1-2.1m0 9c2.97 0 6.1 1.46 6.1 2.1v1.1H5.9V17c0-.64 3.13-2.1 6.1-2.1M12 4C9.79 4 8 5.79 8 8s1.79 4 4 4 4-1.79 4-4-1.79-4-4-4zm0 9c-2.67 0-8 1.34-8 4v3h16v-3c0-2.66-5.33-4-8-4z"/></svg>
<div class="t " style="left:1438.6px;top:445.75px;font-size:13.65px;color:#212121;font-weight:normal;">Phoned but could not reach; left a voice message</div>
<div class="t " style="left:1438.6px;top:465.67px;font-size:13.5px;color:#757575;font-weight:normal;">NexJ System Admin nexjsa</div>
<div class="note" style="top:522px;height:148px"></div>
<div class="t " style="left:1398.7px;top:553.01px;font-size:12.75px;color:#616161;font-weight:normal;">Apr 9, 2019 3:34 PM</div>
<svg class="abs" style="left:1767px;top:546px" width="24" height="24" viewBox="0 0 24 24"><path fill="#616161" d="M12 4.5C7 4.5 2.73 7.61 1 12c1.73 4.39 6 7.5 11 7.5s9.27-3.11 11-7.5c-1.73-4.39-6-7.5-11-7.5zM12 17c-2.76 0-5-2.24-5-5s2.24-5 5-5 5 2.24 5 5-2.24 5-5 5zm0-8c-1.66 0-3 1.34-3 3s1.34 3 3 3 3-1.34 3-3-1.34-3-3-3z"/></svg>
<svg class="abs" style="left:1817px;top:546px" width="24" height="24" viewBox="0 0 24 24"><path fill="#616161" d="M12 8c1.1 0 2-.9 2-2s-.9-2-2-2-2 .9-2 2 .9 2 2 2zm0 2c-1.1 0-2 .9-2 2s.9 2 2 2 2-.9 2-2-.9-2-2-2zm0 6c-1.1 0-2 .9-2 2s.9 2 2 2 2-.9 2-2-.9-2-2-2z"/></svg>
<svg class="abs" style="left:1398px;top:594px" width="24" height="24" viewBox="0 0 24 24"><path fill="#616161" d="M12 5.9c1.16 0 2.1.94 2.1 2.1s-.94 2.1-2.1 2.1S9.9 9.16 9.9 8s.94-2.1 2.1-2.1m0 9c2.97 0 6.1 1.46 6.1 2.1v1.1H5.9V17c0-.64 3.13-2.1 6.1-2.1M12 4C9.79 4 8 5.79 8 8s1.79 4 4 4 4-1.79 4-4-1.79-4-4-4zm0 9c-2.67 0-8 1.34-8 4v3h16v-3c0-2.66-5.33-4-8-4z"/></svg>
<div class="t " style="left:1438.6px;top:597.75px;font-size:13.65px;color:#212121;font-weight:normal;">So in this case I'm using voice dictation to record the note and</div>
<div class="t " style="left:1438.6px;top:617.75px;font-size:13.65px;color:#212121;font-weight:normal;">then save it to the journal</div>
<div class="t " style="left:1438.6px;top:637.67px;font-size:13.5px;color:#757575;font-weight:normal;">NexJ System Admin nexjsa</div>
<div class="note" style="top:694px;height:128px"></div>
<div class="t " style="left:1398.7px;top:725.01px;font-size:12.75px;color:#616161;font-weight:normal;">Apr 9, 2019 3:34 PM</div>
<svg class="abs" style="left:1767px;top:718px" width="24" height="24" viewBox="0 0 24 24"><path fill="#616161" d="M12 4.5C7 4.5 2.73 7.61 1 12c1.73 4.39 6 7.5 11 7.5s9.27-3.11 11-7.5c-1.73-4.39-6-7.5-11-7.5zM12 17c-2.76 0-5-2.24-5-5s2.24-5 5-5 5 2.24 5 5-2.24 5-5 5zm0-8c-1.66 0-3 1.34-3 3s1.34 3 3 3 3-1.34 3-3-1.34-3-3-3z"/></svg>
<svg class="abs" style="left:1817px;top:718px" width="24" height="24" viewBox="0 0 24 24"><path fill="#616161" d="M12 8c1.1 0 2-.9 2-2s-.9-2-2-2-2 .9-2 2 .9 2 2 2zm0 2c-1.1 0-2 .9-2 2s.9 2 2 2 2-.9 2-2-.9-2-2-2zm0 6c-1.1 0-2 .9-2 2s.9 2 2 2 2-.9 2-2-.9-2-2-2z"/></svg>
<svg class="abs" style="left:1398px;top:766px" width="24" height="24" viewBox="0 0 24 24"><path fill="#616161" d="M12 5.9c1.16 0 2.1.94 2.1 2.1s-.94 2.1-2.1 2.1S9.9 9.16 9.9 8s.94-2.1 2.1-2.1m0 9c2.97 0 6.1 1.46 6.1 2.1v1.1H5.9V17c0-.64 3.13-2.1 6.1-2.1M12 4C9.79 4 8 5.79 8 8s1.79 4 4 4 4-1.79 4-4-1.79-4-4-4zm0 9c-2.67 0-8 1.34-8 4v3h16v-3c0-2.66-5.33-4-8-4z"/></svg>
<div class="t " style="left:1438.6px;top:769.75px;font-size:13.65px;color:#212121;font-weight:normal;">Phoned and left a message. Expect a call back today.</div>
<div class="t " style="left:1438.6px;top:789.67px;font-size:13.5px;color:#757575;font-weight:normal;">NexJ System Admin nexjsa</div>
<div class="note" style="top:846px;height:148px"></div>
<div class="t " style="left:1398.7px;top:877.01px;font-size:12.75px;color:#616161;font-weight:normal;">Apr 9, 2019 3:34 PM</div>
<svg class="abs" style="left:1767px;top:870px" width="24" height="24" viewBox="0 0 24 24"><path fill="#616161" d="M12 4.5C7 4.5 2.73 7.61 1 12c1.73 4.39 6 7.5 11 7.5s9.27-3.11 11-7.5c-1.73-4.39-6-7.5-11-7.5zM12 17c-2.76 0-5-2.24-5-5s2.24-5 5-5 5 2.24 5 5-2.24 5-5 5zm0-8c-1.66 0-3 1.34-3 3s1.34 3 3 3 3-1.34 3-3-1.34-3-3-3z"/></svg>
<svg class="abs" style="left:1817px;top:870px" width="24" height="24" viewBox="0 0 24 24"><path fill="#616161" d="M12 8c1.1 0 2-.9 2-2s-.9-2-2-2-2 .9-2 2 .9 2 2 2zm0 2c-1.1 0-2 .9-2 2s.9 2 2 2 2-.9 2-2-.9-2-2-2zm0 6c-1.1 0-2 .9-2 2s.9 2 2 2 2-.9 2-2-.9-2-2-2z"/></svg>
<svg class="abs" style="left:1398px;top:918px" width="24" height="24" viewBox="0 0 24 24"><path fill="#616161" d="M12 5.9c1.16 0 2.1.94 2.1 2.1s-.94 2.1-2.1 2.1S9.9 9.16 9.9 8s.94-2.1 2.1-2.1m0 9c2.97 0 6.1 1.46 6.1 2.1v1.1H5.9V17c0-.64 3.13-2.1 6.1-2.1M12 4C9.79 4 8 5.79 8 8s1.79 4 4 4 4-1.79 4-4-1.79-4-4-4zm0 9c-2.67 0-8 1.34-8 4v3h16v-3c0-2.66-5.33-4-8-4z"/></svg>
<div class="t " style="left:1438.6px;top:921.75px;font-size:13.65px;color:#212121;font-weight:normal;">Tim has indicated that he has moderate risk tolerance but does</div>
<div class="t " style="left:1438.6px;top:941.75px;font-size:13.65px;color:#212121;font-weight:normal;">not want more than 5% of his total portfolio invested in oil and gas</div>
<div class="t " style="left:1438.6px;top:961.67px;font-size:13.5px;color:#757575;font-weight:normal;">NexJ System Admin nexjsa</div>
<div class="abs" style="left:1830px;top:892px;width:56px;height:56px;border-radius:50%;background:#077cd0;box-shadow:0 3px 5px rgba(0,0,0,0.3)"></div>
<svg class="abs" style="left:1846px;top:909px" width="24" height="24" viewBox="0 0 24 24"><path fill="#fff" d="M19 13h-6v6h-2v-6H5v-2h6V5h2v6h6v2z"/></svg>
</body></html>
